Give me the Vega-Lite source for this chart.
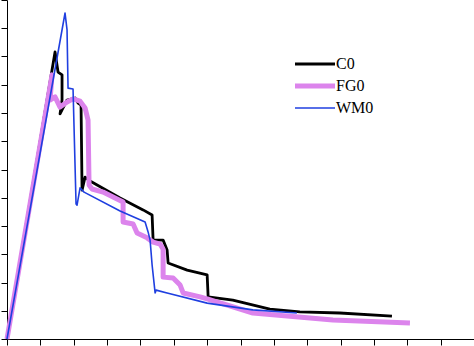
{
  "$schema": "https://vega.github.io/schema/vega-lite/v6.json",
  "width": 467,
  "height": 339,
  "autosize": {"type": "none"},
  "padding": {"left": 7, "top": 0, "right": 0, "bottom": 7},
  "background": "white",
  "config": {
    "view": {"stroke": null},
    "axis": {"domainColor": "black", "domainWidth": 1, "tickColor": "black", "tickWidth": 1, "tickSize": 6, "labels": false, "grid": false, "title": null}
  },
  "data": {
    "values": [
      {"series": "C0", "x": 0, "y": 0},
      {"series": "C0", "x": 1.44, "y": 10.16},
      {"series": "C0", "x": 1.53, "y": 9.45},
      {"series": "C0", "x": 1.65, "y": 9.35},
      {"series": "C0", "x": 1.65, "y": 8.46},
      {"series": "C0", "x": 1.59, "y": 7.97},
      {"series": "C0", "x": 1.65, "y": 8.11},
      {"series": "C0", "x": 1.8, "y": 8.46},
      {"series": "C0", "x": 2.04, "y": 8.53},
      {"series": "C0", "x": 2.13, "y": 8.35},
      {"series": "C0", "x": 2.22, "y": 8.28},
      {"series": "C0", "x": 2.25, "y": 5.27},
      {"series": "C0", "x": 2.34, "y": 5.73},
      {"series": "C0", "x": 2.49, "y": 5.59},
      {"series": "C0", "x": 3.39, "y": 4.99},
      {"series": "C0", "x": 4.08, "y": 4.57},
      {"series": "C0", "x": 4.35, "y": 4.39},
      {"series": "C0", "x": 4.38, "y": 3.5},
      {"series": "C0", "x": 4.68, "y": 3.5},
      {"series": "C0", "x": 4.8, "y": 3.15},
      {"series": "C0", "x": 4.83, "y": 2.69},
      {"series": "C0", "x": 5.4, "y": 2.44},
      {"series": "C0", "x": 6.0, "y": 2.27},
      {"series": "C0", "x": 6.03, "y": 1.49},
      {"series": "C0", "x": 6.77, "y": 1.38},
      {"series": "C0", "x": 7.88, "y": 1.06},
      {"series": "C0", "x": 8.78, "y": 0.96},
      {"series": "C0", "x": 9.98, "y": 0.92},
      {"series": "C0", "x": 11.54, "y": 0.81},
      {"series": "FG0", "x": 0, "y": 0},
      {"series": "FG0", "x": 1.35, "y": 9.35},
      {"series": "FG0", "x": 1.29, "y": 8.46},
      {"series": "FG0", "x": 1.44, "y": 8.57},
      {"series": "FG0", "x": 1.59, "y": 8.21},
      {"series": "FG0", "x": 1.8, "y": 8.39},
      {"series": "FG0", "x": 1.98, "y": 8.5},
      {"series": "FG0", "x": 2.19, "y": 8.42},
      {"series": "FG0", "x": 2.34, "y": 8.18},
      {"series": "FG0", "x": 2.43, "y": 7.75},
      {"series": "FG0", "x": 2.46, "y": 5.45},
      {"series": "FG0", "x": 2.55, "y": 5.31},
      {"series": "FG0", "x": 2.88, "y": 5.2},
      {"series": "FG0", "x": 3.48, "y": 4.85},
      {"series": "FG0", "x": 3.48, "y": 4.14},
      {"series": "FG0", "x": 3.78, "y": 4.07},
      {"series": "FG0", "x": 3.9, "y": 3.75},
      {"series": "FG0", "x": 4.2, "y": 3.58},
      {"series": "FG0", "x": 4.38, "y": 3.43},
      {"series": "FG0", "x": 4.59, "y": 3.36},
      {"series": "FG0", "x": 4.68, "y": 3.18},
      {"series": "FG0", "x": 4.68, "y": 2.19},
      {"series": "FG0", "x": 4.98, "y": 2.16},
      {"series": "FG0", "x": 5.19, "y": 1.91},
      {"series": "FG0", "x": 5.28, "y": 1.63},
      {"series": "FG0", "x": 5.79, "y": 1.49},
      {"series": "FG0", "x": 6.0, "y": 1.42},
      {"series": "FG0", "x": 6.29, "y": 1.31},
      {"series": "FG0", "x": 7.37, "y": 0.92},
      {"series": "FG0", "x": 9.77, "y": 0.67},
      {"series": "FG0", "x": 12.08, "y": 0.57},
      {"series": "WM0", "x": 0, "y": 0},
      {"series": "WM0", "x": 1.74, "y": 11.54},
      {"series": "WM0", "x": 1.8, "y": 10.94},
      {"series": "WM0", "x": 1.83, "y": 8.88},
      {"series": "WM0", "x": 1.98, "y": 8.85},
      {"series": "WM0", "x": 2.07, "y": 4.78},
      {"series": "WM0", "x": 2.1, "y": 4.74},
      {"series": "WM0", "x": 2.19, "y": 5.35},
      {"series": "WM0", "x": 2.31, "y": 5.2},
      {"series": "WM0", "x": 3.39, "y": 4.53},
      {"series": "WM0", "x": 4.14, "y": 4.14},
      {"series": "WM0", "x": 4.23, "y": 3.79},
      {"series": "WM0", "x": 4.29, "y": 3.5},
      {"series": "WM0", "x": 4.35, "y": 2.62},
      {"series": "WM0", "x": 4.44, "y": 1.63},
      {"series": "WM0", "x": 4.47, "y": 1.73},
      {"series": "WM0", "x": 4.8, "y": 1.63},
      {"series": "WM0", "x": 6.0, "y": 1.27},
      {"series": "WM0", "x": 7.37, "y": 1.03},
      {"series": "WM0", "x": 8.69, "y": 0.92}
    ]
  },
  "mark": {"type": "line", "strokeJoin": "round", "strokeCap": "butt"},
  "encoding": {
    "x": {"field": "x", "type": "quantitative", "scale": {"domain": [0, 14], "nice": false}, "axis": {"values": [0,1,2,3,4,5,6,7,8,9,10,11,12,13,14]}},
    "y": {"field": "y", "type": "quantitative", "scale": {"domain": [0, 12], "nice": false}, "axis": {"values": [0,1,2,3,4,5,6,7,8,9,10,11,12]}},
    "order": {"value": null},
    "color": {
      "field": "series", "type": "nominal",
      "scale": {"domain": ["C0", "FG0", "WM0"], "range": ["#000000", "#dc84ec", "#1f3fe0"]},
      "legend": {
        "title": null, "orient": "none", "legendX": 300, "legendY": 56,
        "symbolType": "M-4,0H4", "symbolSize": 100, "labelOffset": 13,
        "labelFont": "Liberation Serif", "labelFontSize": 16, "labelColor": "black",
        "padding": 0, "rowPadding": 4
      }
    },
    "strokeWidth": {
      "field": "series", "type": "nominal",
      "scale": {"type": "ordinal", "domain": ["C0", "FG0", "WM0"], "range": [2.8, 5, 1.6]},
      "legend": {
        "title": null, "orient": "none", "legendX": 300, "legendY": 56,
        "symbolType": "M-4,0H4", "symbolSize": 100, "labelOffset": 13,
        "labelFont": "Liberation Serif", "labelFontSize": 16, "labelColor": "black",
        "padding": 0, "rowPadding": 4
      }
    }
  }
}
